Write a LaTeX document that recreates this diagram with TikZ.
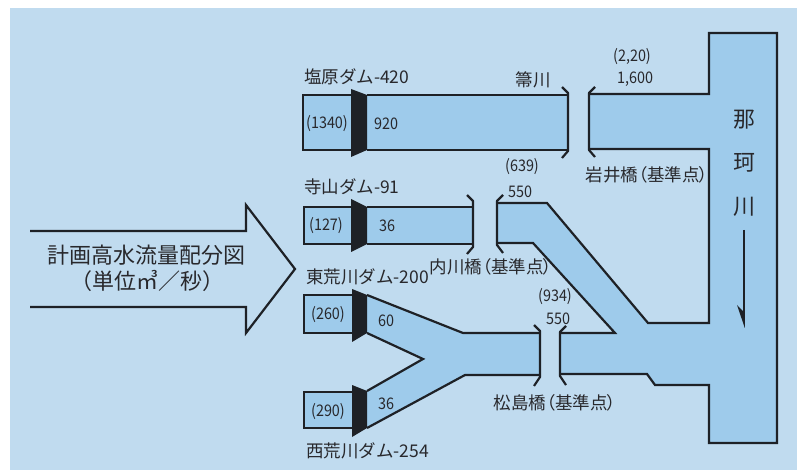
\documentclass[tikz,border=0pt]{standalone}
\usepackage{fontspec}
\setmainfont{Noto Sans CJK JP}
\newfontfamily\numfont{Noto Sans CJK JP}[FakeStretch=0.9]
\newfontfamily\zlfont{Noto Sans CJK JP}[RawFeature=+palt]
\definecolor{bgblue}{RGB}{192,219,239}
\definecolor{riverblue}{RGB}{158,203,235}
\definecolor{linec}{RGB}{30,33,38}
\definecolor{txtc}{RGB}{40,40,44}
\tikzset{
  river/.style={fill=riverblue},
  edge/.style={draw=linec, line width=2.2pt, line join=miter},
  brk/.style={draw=linec, line width=2.2pt, line join=round},
  damblk/.style={fill=linec},
  lbl/.style={text=txtc, inner sep=0pt, font=\fontsize{17.5}{20}\selectfont},
  zl/.style={text=txtc, inner sep=0pt, font=\zlfont\fontsize{17.5}{20}\selectfont},
  num/.style={text=txtc, inner sep=0pt, font=\numfont\fontsize{16}{19}\selectfont},
  big/.style={text=txtc, inner sep=0pt, font=\fontsize{22}{26}\selectfont},
}
\begin{document}
\begin{tikzpicture}[x=1pt,y=-1pt]
\useasboundingbox (0,0) rectangle (806,470);
\fill[white] (0,0) rectangle (806,470);
\fill[bgblue] (10,8) rectangle (797,470);

% ---------- big arrow ----------
\draw[edge] (30,231) -- (246,231) -- (246,205) -- (295,269) -- (246,333) -- (246,307) -- (30,307);

% ---------- Naka river system (right) ----------
\fill[river] (589,94) -- (709,94) -- (709,33) -- (777,33) -- (777,443) -- (709,443) -- (709,385)
  -- (655,385) -- (647,374) -- (560,374) -- (560,333) -- (615,333) -- (533,243) -- (497,243)
  -- (497,203) -- (547,203) -- (648,323) -- (709,323) -- (709,149) -- (589,149) -- cycle;
\draw[edge] (589,94) -- (709,94) -- (709,33) -- (777,33) -- (777,443) -- (709,443) -- (709,385)
  -- (655,385) -- (647,374) -- (560,374);
\draw[edge] (560,333) -- (615,333) -- (533,243) -- (497,243);
\draw[edge] (497,203) -- (547,203) -- (648,323) -- (709,323) -- (709,149) -- (589,149);
% brackets "("
\draw[brk] (595,87) -- (589,93) -- (589,150) -- (595,157);
\draw[brk] (566,326) -- (560,332) -- (560,376) -- (566,385);
\draw[brk] (503,195) -- (497,201) -- (497,245) -- (503,253);

% ---------- Shiobara ----------
\fill[river] (303,95) rectangle (351,150);
\draw[edge] (351,95) -- (303,95) -- (303,150) -- (351,150);
\fill[river] (367,95) rectangle (568,150);
\draw[edge] (367,95) -- (568,95);
\draw[edge] (367,150) -- (568,150);
\fill[damblk] (351,89) -- (367,95) -- (367,150) -- (351,157) -- cycle;
\draw[brk] (562,87) -- (568,93) -- (568,151) -- (562,158);

% ---------- Terayama ----------
\fill[river] (304,207) rectangle (351,244);
\draw[edge] (351,207) -- (304,207) -- (304,244) -- (351,244);
\fill[river] (367,207) rectangle (473,244);
\draw[edge] (367,207) -- (473,207);
\draw[edge] (367,244) -- (473,244);
\fill[damblk] (351,199) -- (367,207) -- (367,244) -- (351,252) -- cycle;
\draw[brk] (467,195) -- (473,201) -- (473,247) -- (467,254);

% ---------- Higashi-Arakawa / Nishi-Arakawa ----------
\fill[river] (304,295) rectangle (352,333);
\draw[edge] (352,295) -- (304,295) -- (304,333) -- (352,333);
\fill[river] (304,392) rectangle (352,428);
\draw[edge] (352,392) -- (304,392) -- (304,428) -- (352,428);
\fill[river] (367,295) -- (463,333) -- (540,333) -- (540,375) -- (465,375) -- (367,428)
  -- (367,391) -- (423,359) -- (367,333) -- cycle;
\draw[edge] (367,295) -- (463,333) -- (540,333);
\draw[edge] (540,375) -- (465,375) -- (367,428);
\draw[edge] (367,333) -- (423,359) -- (367,391);
\fill[damblk] (352,289) -- (367,295) -- (367,333) -- (352,342) -- cycle;
\fill[damblk] (352,385) -- (367,391) -- (367,428) -- (352,437) -- cycle;
\draw[brk] (534,325) -- (540,331) -- (540,377) -- (534,386);

% ---------- flow arrow in Naka river ----------
\draw[draw=linec, line width=1.6pt] (744,230) -- (744,316);
\fill[linec] (744.8,328) -- (737,305) -- (744.8,313) -- cycle;

% ---------- texts ----------
\node[big] (t1) at (146,255) {計画高水流量配分図};
\node[big] (t2) at (147,281) {（単位㎥／秒）};

\node[lbl,anchor=west] (shiobara) at (304,77) {塩原ダム-420};
\node[lbl] (houki) at (533,80) {箒川};
\node[num] (n1340) at (327,124) {(1340)};
\node[num,anchor=west] (n920) at (374,124) {920};
\node[num] (n220) at (632,57) {(2,20)};
\node[num] (n1600) at (635,79) {1,600};
\node[zl] (iwai) at (647,175) {岩井橋（基準点）};
\node[big] (na) at (744,120) {那};
\node[big] (ka) at (744,163) {珂};
\node[big] (kawa) at (744,207) {川};

\node[lbl,anchor=west] (tera) at (304,187) {寺山ダム-91};
\node[num] (n127) at (326,226) {(127)};
\node[num,anchor=west] (n36a) at (379,226) {36};
\node[num] (n639) at (522,167) {(639)};
\node[num,anchor=west] (n550a) at (508,192) {550};
\node[zl] (uchi) at (491,267) {内川橋（基準点）};

\node[lbl,anchor=west] (higashi) at (306,277) {東荒川ダム-200};
\node[num] (n260) at (328,315) {(260)};
\node[num,anchor=west] (n60) at (378,321) {60};
\node[num] (n290) at (328,412) {(290)};
\node[num,anchor=west] (n36b) at (378,404) {36};
\node[lbl,anchor=west] (nishi) at (306,451) {西荒川ダム-254};
\node[num] (n934) at (555,297) {(934)};
\node[num] (n550b) at (558,319) {550};
\node[zl] (matsu) at (555,403) {松島橋（基準点）};
\end{tikzpicture}
\end{document}
